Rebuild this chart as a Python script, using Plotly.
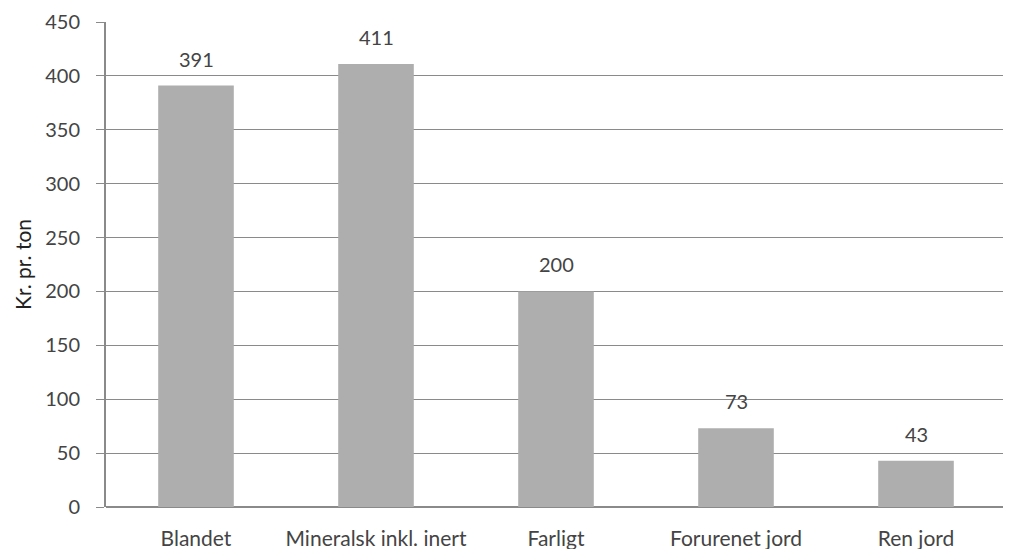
import plotly.graph_objects as go

categories = ["Blandet", "Mineralsk inkl. inert", "Farligt", "Forurenet jord", "Ren jord"]
values = [391, 411, 200, 73, 43]

FONT = "Lato"
GREY = "#444444"
SIZE = 20

fig = go.Figure()
fig.add_trace(
    go.Bar(
        x=categories,
        y=values,
        marker=dict(color="#AEAEAE", line=dict(width=0)),
        showlegend=False,
    )
)

# value labels sit a bit above the bars, like the Excel original
for cat, val in zip(categories, values):
    fig.add_annotation(
        x=cat,
        y=val,
        text=str(val),
        showarrow=False,
        yanchor="bottom",
        yshift=13,
        font=dict(family=FONT, size=SIZE, color=GREY),
    )

fig.update_layout(
    width=1011,
    height=549,
    margin=dict(l=98, r=13, t=14, b=50, autoexpand=False),
    paper_bgcolor="white",
    plot_bgcolor="white",
    bargap=0.58,
    font=dict(family=FONT, size=SIZE, color=GREY),
    xaxis=dict(
        automargin=False,
        showgrid=False,
        showline=False,
        ticks="",
        ticklabelstandoff=17,
        tickfont=dict(family=FONT, size=21, color=GREY),
    ),
    yaxis=dict(
        automargin=False,
        range=[0, 450],
        dtick=50,
        showgrid=True,
        gridcolor="#8A8A8A",
        gridwidth=1,
        showline=True,
        linecolor="#8A8A8A",
        linewidth=2,
        ticks="outside",
        ticklen=8,
        tickcolor="#8A8A8A",
        ticklabelstandoff=12,
        zeroline=True,
        zerolinecolor="#8A8A8A",
        zerolinewidth=2,
        tickfont=dict(family=FONT, size=SIZE, color=GREY),
        title=dict(text="Kr. pr. ton", font=dict(family=FONT, size=21, color="#222222"), standoff=8),
    ),
)

fig.write_html("out.html")
